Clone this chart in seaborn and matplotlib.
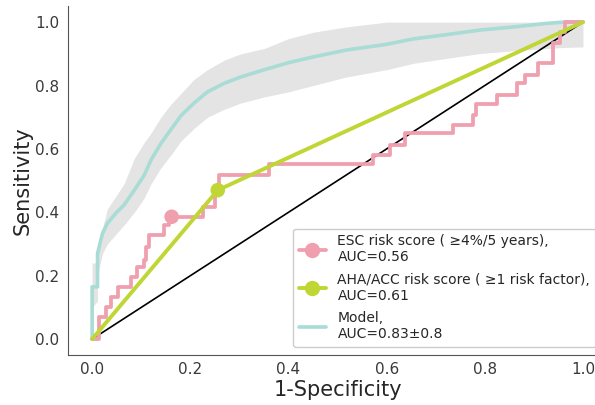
import numpy as np
import pandas as pd
import matplotlib
matplotlib.use("Agg")
import matplotlib.pyplot as plt
from matplotlib.lines import Line2D
import seaborn as sns

# ---------------- data ----------------
# ESC risk score ROC (step curve, steps-post vertices)
esc_fpr = [0.0, 0.014, 0.028, 0.038, 0.052, 0.079, 0.092, 0.105, 0.110, 0.116, 0.147,
           0.157, 0.162, 0.225, 0.250, 0.258, 0.360, 0.572, 0.606, 0.637, 0.735, 0.776,
           0.783, 0.824, 0.865, 0.882, 0.909, 0.939, 0.953, 0.963, 1.0]
esc_tpr = [0.0, 0.070, 0.102, 0.133, 0.165, 0.197, 0.228, 0.249, 0.291, 0.328, 0.360,
           0.372, 0.386, 0.417, 0.470, 0.517, 0.552, 0.580, 0.612, 0.649, 0.675, 0.707,
           0.743, 0.770, 0.807, 0.833, 0.870, 0.933, 0.970, 1.0, 1.0]
esc_op_fpr = [0.162]
esc_op_tpr = [0.386]

# AHA/ACC risk score ROC
aha_fpr = [0.0, 0.256, 1.0]
aha_tpr = [0.0, 0.470, 1.0]
aha_op_fpr = [0.256]
aha_op_tpr = [0.470]

# Model mean ROC with band
model_fpr = [0.0, 0.0, 0.011, 0.011, 0.021, 0.031, 0.048, 0.065, 0.086, 0.106, 0.120,
             0.140, 0.160, 0.181, 0.208, 0.235, 0.269, 0.303, 0.351, 0.400, 0.450,
             0.518, 0.600, 0.654, 0.720, 0.790, 0.860, 0.926, 0.960, 1.0]
model_tpr = [0.0, 0.165, 0.165, 0.270, 0.333, 0.365, 0.397, 0.423, 0.470, 0.517, 0.565,
             0.617, 0.660, 0.705, 0.745, 0.780, 0.807, 0.827, 0.850, 0.872, 0.890,
             0.912, 0.930, 0.947, 0.960, 0.975, 0.985, 0.996, 1.0, 1.0]
model_upper = [0.0, 0.240, 0.240, 0.300, 0.350, 0.410, 0.450, 0.490, 0.570, 0.620, 0.650,
               0.700, 0.740, 0.775, 0.820, 0.850, 0.880, 0.900, 0.917, 0.948, 0.968,
               0.985, 1.0, 1.0, 1.0, 1.0, 1.0, 1.0, 1.0, 1.0]
model_lower = [0.0, 0.100, 0.120, 0.200, 0.270, 0.300, 0.330, 0.360, 0.400, 0.445, 0.490,
               0.540, 0.580, 0.625, 0.665, 0.700, 0.725, 0.745, 0.764, 0.780, 0.800,
               0.827, 0.850, 0.870, 0.885, 0.901, 0.910, 0.917, 0.920, 0.922]

chance = [0.0, 1.0]

labels = ["ESC risk score ( \u22654%/5 years),\nAUC=0.56",
          "AHA/ACC risk score ( \u22651 risk factor),\nAUC=0.61",
          "Model,\nAUC=0.83\u00b10.8"]

xticks = [0.0, 0.2, 0.4, 0.6, 0.8, 1.0]
yticks = [0.0, 0.2, 0.4, 0.6, 0.8, 1.0]

# ---------------- style ----------------
c_esc = "#ef9fae"
c_aha = "#bfd634"
c_model = "#a8dcd4"
c_band = "#e4e4e4"

sns.set_style("white")
plt.rcParams['font.family'] = ['DejaVu Sans']

fig = plt.figure(figsize=(5.95, 4.05), dpi=100)
ax = fig.add_axes([0.1136, 0.1235, 0.9074, 0.861])

ax.fill_between(model_fpr, model_lower, model_upper, color=c_band, lw=0, zorder=1)

df_model = pd.DataFrame({"fpr": model_fpr, "tpr": model_tpr})
sns.lineplot(data=df_model, x="fpr", y="tpr", sort=False, estimator=None,
             color=c_model, lw=2.6, ax=ax, zorder=3)

sns.lineplot(x=chance, y=chance, sort=False, estimator=None, color="black",
             lw=1.2, ax=ax, zorder=2)

df_esc = pd.DataFrame({"fpr": esc_fpr, "tpr": esc_tpr})
sns.lineplot(data=df_esc, x="fpr", y="tpr", sort=False, estimator=None,
             color=c_esc, lw=2.7, drawstyle="steps-post", ax=ax, zorder=4)

df_aha = pd.DataFrame({"fpr": aha_fpr, "tpr": aha_tpr})
sns.lineplot(data=df_aha, x="fpr", y="tpr", sort=False, estimator=None,
             color=c_aha, lw=2.8, ax=ax, zorder=5)

sns.scatterplot(x=esc_op_fpr, y=esc_op_tpr, color=c_esc, s=110, edgecolor="none",
                ax=ax, zorder=6)
sns.scatterplot(x=aha_op_fpr, y=aha_op_tpr, color=c_aha, s=110, edgecolor="none",
                ax=ax, zorder=6)

ax.set_xlim(-0.05, 1.05)
ax.set_ylim(-0.05, 1.05)
ax.set_xticks(xticks)
ax.set_yticks(yticks)
ax.set_xticklabels([f"{t:.1f}" for t in xticks], fontsize=11, color="#3a3a3a")
ax.set_yticklabels([f"{t:.1f}" for t in yticks], fontsize=11, color="#3a3a3a")
ax.tick_params(axis="x", pad=1.5)
ax.tick_params(axis="y", pad=2.5)
ax.set_xlabel("1-Specificity", fontsize=15, color="#262626", labelpad=2)
ax.set_ylabel("Sensitivity", fontsize=15, color="#262626", labelpad=2)
sns.despine(ax=ax)
for s in ["left", "bottom"]:
    ax.spines[s].set_color("#555555")

handles = [
    Line2D([], [], color=c_esc, lw=2.7, marker="o", markersize=10),
    Line2D([], [], color=c_aha, lw=2.8, marker="o", markersize=10),
    Line2D([], [], color=c_model, lw=2.6),
]
ax.legend(handles, labels, loc="lower left", bbox_to_anchor=(0.4176, 0.023),
          borderaxespad=0, fontsize=10, labelspacing=0.6, frameon=True,
          edgecolor="#cccccc", framealpha=1.0)

fig.savefig("out.png", dpi=100)
